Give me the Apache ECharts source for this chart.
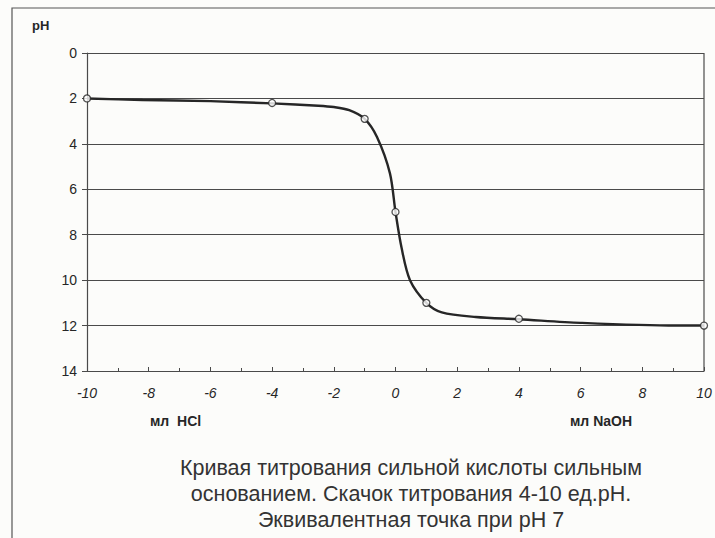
<!DOCTYPE html>
<html>
<head>
<meta charset="utf-8">
<script src="https://cdn.jsdelivr.net/npm/echarts@6/dist/echarts.min.js"></script>
<style>
  html, body { margin: 0; padding: 0; background: #fcfcfa; }
  #chart { width: 715px; height: 538px; }
</style>
</head>
<body>
<div id="chart"></div>
<script>
// measured points (hollow markers)
var pointX = [-10, -4, -1, 0, 1, 4, 10];
var pointPH = [2.0, 2.2, 2.9, 7.0, 11.0, 11.7, 12.0];

// curve
var curveX = [-10, -8.2, -6, -4, -2.5, -2, -1.5, -1, -0.6, -0.18, 0, 0.2, 0.47, 1, 1.5, 2.6, 4, 6, 9.1, 10];
var curvePH = [2.0, 2.07, 2.12, 2.22, 2.32, 2.38, 2.52, 2.9, 3.7, 5.3, 7.0, 8.6, 10.0, 11.0, 11.42, 11.62, 11.72, 11.88, 12.0, 12.0];

var xTicks = [-10, -8, -6, -4, -2, 0, 2, 4, 6, 8, 10];
var yTicks = [0, 2, 4, 6, 8, 10, 12, 14];

var captionLines = [
  'Кривая титрования сильной кислоты сильным',
  'основанием. Скачок титрования 4-10 ед.pH.',
  'Эквивалентная точка при pH 7'
];

var ink = '#262626';
var rule = '#4a4a4a';

var chart = echarts.init(document.getElementById('chart'), null, { renderer: 'svg' });

function zip(a, b) {
  return a.map(function(v, i) { return [v, b[i]]; });
}

chart.setOption({
  animation: false,
  backgroundColor: '#fcfcfa',
  grid: { left: 87, right: 11, top: 53, bottom: 167 },
  xAxis: {
    type: 'value',
    position: 'bottom',
    min: xTicks[0],
    max: xTicks[xTicks.length - 1],
    interval: 2,
    axisLine: { onZero: false, lineStyle: { color: rule, width: 1.2 } },
    axisTick: { show: true, inside: true, length: 4, lineStyle: { color: rule } },
    minorTick: { show: true, splitNumber: 2, length: 3, lineStyle: { color: rule } },
    splitLine: { show: false },
    axisLabel: {
      color: ink,
      fontFamily: 'Liberation Sans, Arial',
      fontStyle: 'italic',
      fontSize: 14,
      margin: 15
    }
  },
  yAxis: {
    type: 'value',
    position: 'left',
    inverse: true,
    min: yTicks[0],
    max: yTicks[yTicks.length - 1],
    interval: 2,
    axisLine: { show: true, onZero: false, lineStyle: { color: rule, width: 1.2 } },
    axisTick: { show: true, length: 5, lineStyle: { color: rule } },
    splitLine: { lineStyle: { color: rule, width: 1 } },
    axisLabel: {
      color: ink,
      fontFamily: 'Liberation Sans, Arial',
      fontSize: 14,
      margin: 10
    }
  },
  graphic: [
    // outer frame (left and top)
    { type: 'polyline', shape: { points: [[12, 540], [12, 8], [715, 8]] },
      style: { stroke: '#555', lineWidth: 1.2, fill: null } },
    // right edge of plot box
    { type: 'line', shape: { x1: 704, y1: 53, x2: 704, y2: 371 },
      style: { stroke: rule, lineWidth: 1.2 } },
    { type: 'text', left: 32, top: 19,
      style: { text: 'pH', fill: ink, font: 'bold 13px Liberation Sans, Arial' } },
    { type: 'text', left: 150, top: 414,
      style: { text: 'мл  HCl', fill: ink, font: 'bold 14px Liberation Sans, Arial' } },
    { type: 'text', left: 570, top: 414,
      style: { text: 'мл NaOH', fill: ink, font: 'bold 14px Liberation Sans, Arial' } },
    { type: 'text', x: 411, y: 455,
      style: { text: captionLines.join('\n'), fill: '#333', align: 'center',
        font: '21.5px Liberation Sans, Arial', lineHeight: 26 } }
  ],
  series: [
    {
      type: 'line',
      data: zip(curveX, curvePH),
      smooth: 0.3,
      showSymbol: false,
      lineStyle: { color: ink, width: 2.4 },
      z: 2
    },
    {
      type: 'scatter',
      data: zip(pointX, pointPH),
      symbol: 'circle',
      symbolSize: 7,
      itemStyle: { color: '#ffffff', borderColor: ink, borderWidth: 1.3 },
      z: 3
    }
  ]
});
</script>
</body>
</html>
